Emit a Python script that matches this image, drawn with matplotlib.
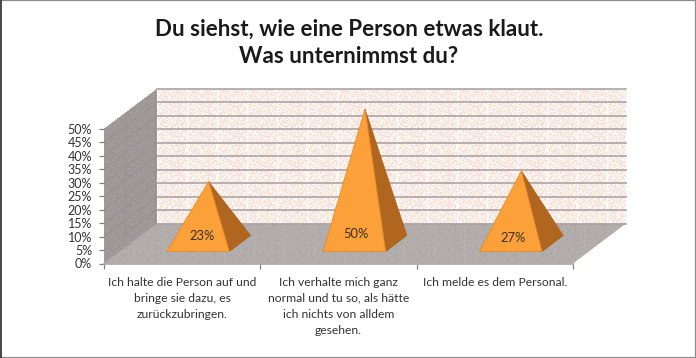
import numpy as np
import matplotlib
matplotlib.use("Agg")
import matplotlib.pyplot as plt
from matplotlib.patches import Polygon, Rectangle
from matplotlib.ticker import PercentFormatter

title = "Du siehst, wie eine Person etwas klaut.\nWas unternimmst du?"
categories = [
    "Ich halte die Person auf und\nbringe sie dazu, es\nzurückzubringen.",
    "Ich verhalte mich ganz\nnormal und tu so, als hätte\nich nichts von alldem\ngesehen.",
    "Ich melde es dem Personal.",
]
values = [0.23, 0.50, 0.27]
y_ticks = [0, .05, .10, .15, .20, .25, .30, .35, .40, .45, .50]

W, H = 696, 358
L, R, T, B = 104, 573, 129, 263.5
fig = plt.figure(figsize=(W / 100, H / 100), dpi=100, facecolor="white")
ax = fig.add_axes([L / W, 1 - B / H, (R - L) / W, (B - T) / H])
ax.set_xlim(0, 3)
ax.set_ylim(0, 0.5)
ax.patch.set_visible(False)

DX = 53 / ((R - L) / 3)      # depth shift, category units
DY = 40 / ((B - T) / 0.5)    # depth shift, value units


def p(x, y, d=0.0):
    return (x + d * DX, y + d * DY)


GRID = "#aaa4a6"
clip = dict(clip_on=False)


def dither(cols, shape):
    h, w = shape
    yy, xx = np.indices((h, w))
    idx = ((xx * 3 + yy * 5 + (xx // 2) * (yy // 2) + (xx * yy) % 3) % len(cols))
    return np.array([matplotlib.colors.to_rgb(c) for c in cols])[idx]


def fill(poly, cols):
    patch = Polygon(poly, closed=True, transform=ax.transData, fc="none", ec="none", **clip)
    ax.add_patch(patch)
    px = ax.transData.transform(poly)
    x0, y0 = np.floor(px.min(0)).astype(int)
    x1, y1 = np.ceil(px.max(0)).astype(int)
    inv = ax.transData.inverted()
    (a, b), (c, d) = inv.transform([(x0, y0), (x1, y1)])
    im = ax.imshow(dither(cols, (y1 - y0, x1 - x0)), extent=(a, c, b, d), aspect="auto",
                   interpolation="nearest", zorder=1)
    im.set_clip_box(fig.bbox)
    im.set_clip_path(patch)


wall = [p(0, 0, 1), p(3, 0, 1), p(3, .5, 1), p(0, .5, 1)]
side = [p(0, 0), p(0, 0, 1), p(0, .5, 1), p(0, .5)]
floor = [p(0, 0), p(3, 0), p(3, 0, 1), p(0, 0, 1)]
fill(wall, ["#ffffff", "#fcd6e4", "#fff3c8", "#fde2e0", "#fff8f4"])
fill(side, ["#a09a98", "#9c9896", "#a29c9c", "#97928f", "#a09c9a"])
fill(floor, ["#b8b2aa", "#aeaab0", "#b4aea8", "#aaa6aa", "#b2aeac"])
ax.set_xlim(0, 3)
ax.set_ylim(0, 0.5)
ax.set_aspect("auto")

for t in y_ticks:
    ax.plot(*zip(p(0, t, 1), p(3, t, 1)), color=GRID, lw=1.2, zorder=2, **clip)
    ax.plot(*zip(p(0, t), p(0, t, 1)), color="#8b8686", lw=0.5, ls=(0, (1.5, 1.5)), zorder=2, **clip)
ax.plot(*zip(p(0, 0), p(3, 0)), color=GRID, lw=1.2, zorder=2, **clip)

HALF = 0.2
D0, D1 = 0.3, 0.7
nudge = [(4, 15), (2, 18), (2.5, 13)]
for i, v in enumerate(values):
    c = i + 0.5
    fl, fr = p(c - HALF, 0, D0), p(c + HALF, 0, D0)
    br = p(c + HALF, 0, D1)
    apex = p(c, v, 0.5)
    ax.add_patch(Polygon([fr, br, apex], closed=True, fc="#b0661f", ec="#a86018", lw=0.5, zorder=3, **clip))
    ax.add_patch(Polygon([fl, fr, apex], closed=True, fc="#fca03a", ec="#e8892a", lw=0.6, zorder=4, **clip))
    ax.annotate(f"{v:.0%}", xy=p(c, 0, D0), xytext=nudge[i], textcoords="offset pixels",
                ha="center", va="center", fontsize=9.3, family="Lato", color="#3a3020", zorder=5)

for s in ax.spines.values():
    s.set_visible(False)
ax.set_yticks(y_ticks)
ax.yaxis.set_major_formatter(PercentFormatter(1.0, decimals=0))
ax.tick_params(axis="y", length=3.5, width=0.9, color="#808080", pad=5, labelsize=9, labelcolor="#333333")
for lab in ax.get_yticklabels():
    lab.set_family("Lato")
ax.set_xticks([0, 1, 2, 3])
ax.set_xticklabels([])
ax.set_xticks([0.5, 1.5, 2.5], labels=categories, minor=True)
ax.tick_params(axis="x", which="major", length=3.5, width=0.9, color="#808080", zorder=1)
ax.tick_params(axis="x", which="minor", length=0, pad=9.5, labelsize=8.7, labelcolor="#333333")
for lab in ax.get_xticklabels(minor=True):
    lab.set_family("Lato")
    lab.set_linespacing(1.56)
    lab.set_va("top")

fig.text(349 / W, 1 - 43 / H, title, ha="center", va="center", fontsize=16.1, fontweight="bold",
         family="Lato", color="#1a1a1a", linespacing=1.33)

fig.add_artist(Rectangle((0, 0), 1, 1, transform=fig.transFigure, fill=False, ec="#8c8c8c", lw=1.6))
fig.add_artist(plt.Line2D([1 / W, 1 / W], [0, 1], transform=fig.transFigure, color="#404040", lw=1.3))

fig.savefig("out.png", dpi=100)
